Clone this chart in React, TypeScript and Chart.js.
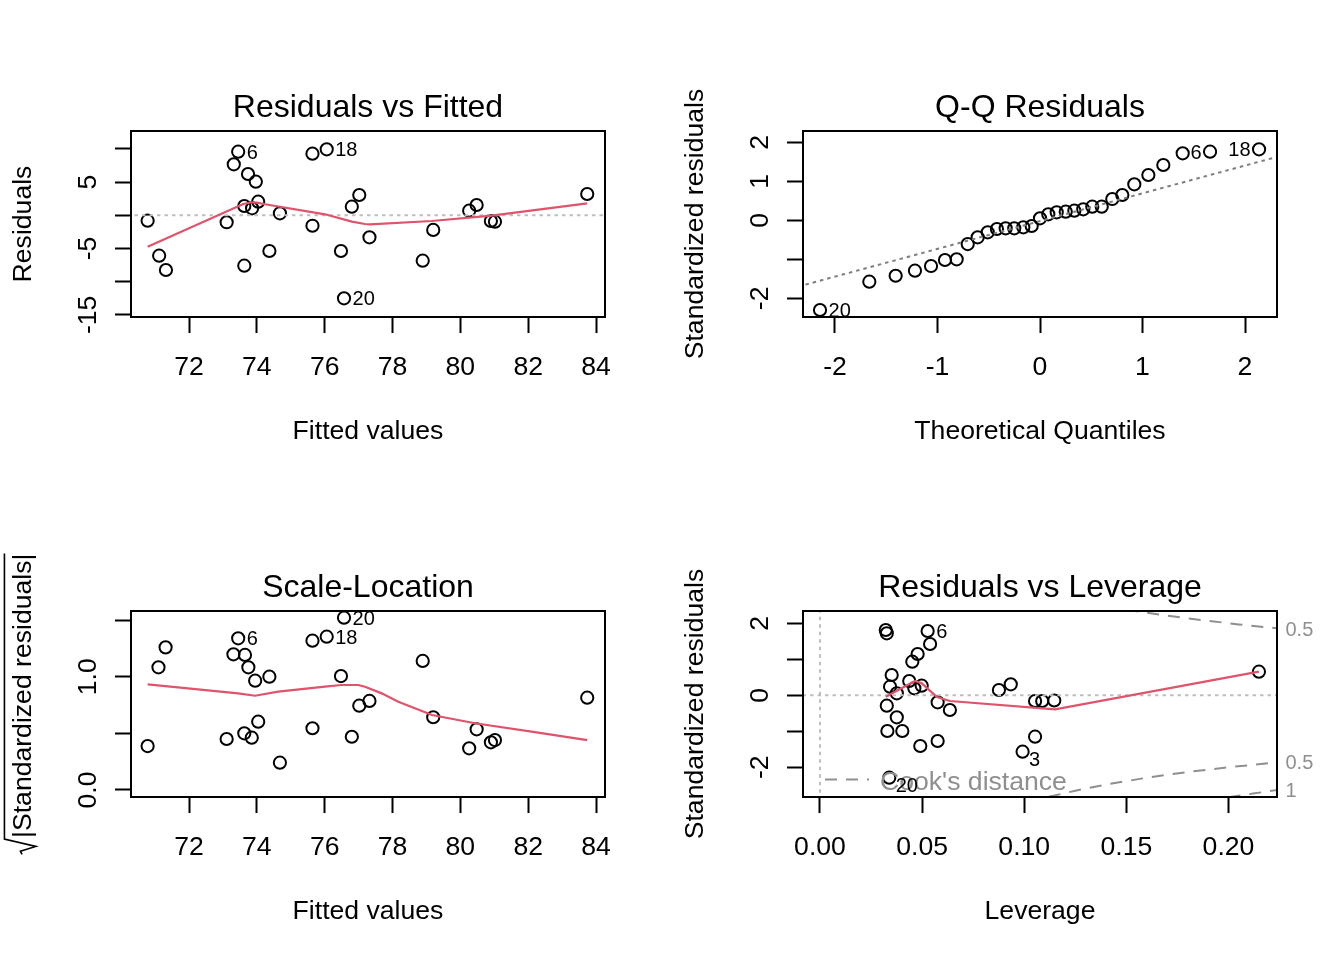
import React, { useEffect, useRef } from "react";
import { Chart, registerables } from "chart.js";

Chart.register(...registerables);

const FONT = '"Liberation Sans", Arial, Helvetica, sans-serif';
const AXIS_PX = 26.6;
const TITLE_PX = 32;
const ID_PX = 20;
const RED = "#DF536B";
const LIGHT_GRAY = "#BEBEBE";
const MID_GRAY = "#7F7F7F";
const COOK_GRAY = "#8F8F8F";
const DOTTED = [3.5, 4];
const DASHED = [12, 9];

// ---------- Residuals vs Fitted ----------
const fittedValues = [70.78, 71.12, 71.32, 73.11, 73.32, 73.45, 73.63, 73.63, 73.74, 73.86, 73.97, 74.04, 74.37, 74.68, 75.64, 75.64, 76.06, 76.48, 76.57, 76.8, 77.02, 77.32, 78.89, 79.2, 80.26, 80.48, 80.9, 81.02, 83.74];
const residuals = [-0.81, -6.08, -8.24, -1.05, 7.68, 9.58, 1.4, -7.59, 6.22, 1.05, 5.06, 2.05, -5.38, 0.3, 9.28, -1.57, 9.94, -5.38, -12.5, 1.3, 3.06, -3.31, -6.84, -2.21, 0.69, 1.55, -0.86, -0.96, 3.21];
const residualIds = ["", "", "", "", "", "6", "", "", "", "", "", "", "", "", "", "", "18", "", "20", "", "", "", "", "", "", "", "", "", ""];
const residSmoothX = [70.78, 73.6, 73.85, 74.0, 74.24, 76.01, 76.8, 77.19, 77.34, 79.16, 80.92, 83.74];
const residSmoothY = [-4.73, 1.7, 1.96, 1.9, 1.66, 0.15, -0.96, -1.31, -1.36, -0.86, -0.06, 1.81];
const fittedTicks = [72, 74, 76, 78, 80, 82, 84];
const fittedTickLabels = ["72", "74", "76", "78", "80", "82", "84"];
const residTicks = [-15, -10, -5, 0, 5, 10];
const residTickLabels = ["-15", "", "-5", "", "5", ""];

// ---------- Q-Q Residuals ----------
const theoreticalQuantiles = [-2.146, -1.665, -1.408, -1.22, -1.063, -0.927, -0.813, -0.705, -0.608, -0.51, -0.42, -0.335, -0.251, -0.163, -0.081, 0.0, 0.081, 0.163, 0.251, 0.335, 0.422, 0.51, 0.602, 0.705, 0.803, 0.92, 1.057, 1.203, 1.392, 1.659, 2.137];
const sortedStdResiduals = [-2.3, -1.574, -1.421, -1.292, -1.172, -1.018, -1.0, -0.608, -0.436, -0.308, -0.223, -0.205, -0.205, -0.179, -0.146, 0.051, 0.154, 0.205, 0.221, 0.246, 0.282, 0.349, 0.349, 0.546, 0.649, 0.923, 1.162, 1.418, 1.718, 1.759, 1.821];
const qqIds = ["20", "", "", "", "", "", "", "", "", "", "", "", "", "", "", "", "", "", "", "", "", "", "", "", "", "", "", "", "", "6", "18"];
const qqLineX = [-2.5, 2.5];
const qqLineY = [-1.8, 1.76];
const qqXTicks = [-2, -1, 0, 1, 2];
const qqXTickLabels = ["-2", "-1", "0", "1", "2"];
const stdTicks = [-2, -1, 0, 1, 2];
const qqYTickLabels = ["-2", "", "0", "1", "2"];

// ---------- Scale-Location ----------
const slFitted = [70.78, 71.1, 71.31, 73.11, 73.31, 73.45, 73.63, 73.65, 73.75, 73.85, 73.95, 74.04, 74.37, 74.68, 75.64, 75.64, 76.06, 76.48, 76.57, 76.8, 77.02, 77.32, 78.89, 79.2, 80.26, 80.48, 80.9, 81.02, 83.74];
const slSqrtStd = [0.388, 1.083, 1.259, 0.45, 1.198, 1.339, 0.5, 1.192, 1.083, 0.462, 0.965, 0.603, 1.0, 0.241, 1.318, 0.545, 1.353, 1.006, 1.521, 0.47, 0.744, 0.786, 1.139, 0.642, 0.368, 0.536, 0.421, 0.441, 0.815];
const slIds = ["", "", "", "", "", "6", "", "", "", "", "", "", "", "", "", "", "18", "", "20", "", "", "", "", "", "", "", "", "", ""];
const slSmoothX = [70.78, 73.45, 73.95, 74.63, 76.01, 76.5, 76.99, 77.19, 77.68, 78.17, 78.96, 79.16, 80.43, 82.1, 83.74];
const slSmoothY = [0.933, 0.853, 0.832, 0.868, 0.912, 0.927, 0.927, 0.912, 0.853, 0.779, 0.686, 0.662, 0.589, 0.515, 0.441];
const slYTicks = [0, 0.5, 1.0, 1.5];
const slYTickLabels = ["0.0", "", "1.0", ""];

// ---------- Residuals vs Leverage ----------
const leverage = [0.0322, 0.0327, 0.0527, 0.0539, 0.0478, 0.0452, 0.0351, 0.0437, 0.0343, 0.0462, 0.0498, 0.0376, 0.0327, 0.0576, 0.0636, 0.0376, 0.033, 0.0403, 0.0491, 0.0576, 0.0339, 0.0876, 0.0934, 0.1053, 0.1088, 0.1147, 0.1053, 0.0992, 0.2149];
const levStdResiduals = [1.814, 1.722, 1.786, 1.425, 1.147, 0.933, 0.564, 0.397, 0.239, 0.194, 0.267, 0.056, -0.289, -0.194, -0.408, -0.611, -0.992, -0.992, -1.408, -1.269, -2.289, 0.147, 0.306, -0.158, -0.158, -0.144, -1.15, -1.567, 0.656];
const levIds = ["", "", "6", "", "", "", "", "", "", "", "", "", "", "", "", "", "", "", "", "", "20", "", "", "", "", "", "", "3", ""];
const levSmoothX = [0.0322, 0.0465, 0.0498, 0.0573, 0.0636, 0.1151, 0.2149];
const levSmoothY = [-0.039, 0.397, 0.333, -0.047, -0.158, -0.389, 0.656];
const cookUpperHalfX = [0.15, 0.17, 0.187, 0.205, 0.224];
const cookUpperHalfY = [2.38, 2.21, 2.09, 1.97, 1.86];
const cookLowerHalfX = [0.112, 0.125, 0.14, 0.16, 0.18, 0.2, 0.224];
const cookLowerHalfY = [-2.82, -2.65, -2.48, -2.29, -2.13, -2.0, -1.86];
const cookLowerOneX = [0.2, 0.212, 0.224];
const cookLowerOneY = [-2.83, -2.73, -2.63];
const cookLevels = ["0.5", "0.5", "1"];
const levTicks = [0, 0.05, 0.1, 0.15, 0.2];
const levTickLabels = ["0.00", "0.05", "0.10", "0.15", "0.20"];
const levYTickLabels = ["-2", "", "0", "", "2"];

// ---------- helpers ----------
type XY = { x: number; y: number };
const pairs = (xs: number[], ys: number[]): XY[] => xs.map((x, i) => ({ x, y: ys[i] }));

function pointSet(xs: number[], ys: number[]) {
  return {
    data: pairs(xs, ys),
    showLine: false,
    pointStyle: "circle",
    pointRadius: 6.1,
    pointBorderWidth: 2,
    pointBorderColor: "#000",
    pointBackgroundColor: "rgba(0,0,0,0)",
    order: 3,
    clip: false,
  };
}

function lineSet(xs: number[], ys: number[], color: string, dash: number[], width: number, order: number) {
  return {
    data: pairs(xs, ys),
    showLine: true,
    pointRadius: 0,
    borderColor: color,
    borderWidth: width,
    borderDash: dash,
    borderCapStyle: "butt",
    fill: false,
    tension: 0,
    order,
    clip: 0,
  };
}

type IdPlacement = (px: number, py: number, i: number) => { x: number; y: number; align: CanvasTextAlign };

interface PanelSpec {
  title: string;
  xTitle: string;
  yTitle: string;
  sqrtYTitle?: boolean;
  xMin: number;
  xMax: number;
  yMin: number;
  yMax: number;
  xTicks: number[];
  xTickLabels: string[];
  yTicks: number[];
  yTickLabels: string[];
  datasets: any[];
  idX: number[];
  idY: number[];
  ids: string[];
  place: IdPlacement;
  extra?: (ctx: CanvasRenderingContext2D, chart: Chart) => void;
}

const capMid = (px: number) => px * 0.358;

const rightOf: IdPlacement = (px, py) => ({ x: px + 8.5, y: py + capMid(ID_PX), align: "left" });
const leftOf: IdPlacement = (px, py) => ({ x: px - 8.5, y: py + capMid(ID_PX), align: "right" });

function drawSqrtTitle(ctx: CanvasRenderingContext2D, cx: number, cy: number, text: string) {
  const fs = AXIS_PX;
  ctx.save();
  ctx.translate(cx, cy);
  ctx.rotate(-Math.PI / 2);
  ctx.font = `${fs}px ${FONT}`;
  const body = `|${text}|`;
  const w = ctx.measureText(body).width;
  const r = 0.62 * fs;
  const x0 = -(w + r) / 2;
  ctx.textAlign = "left";
  ctx.textBaseline = "alphabetic";
  ctx.fillText(body, x0 + r, 0);
  const top = -0.98 * fs;
  ctx.beginPath();
  ctx.moveTo(x0, -0.32 * fs);
  ctx.lineTo(x0 + 0.12 * fs, -0.38 * fs);
  ctx.lineTo(x0 + 0.3 * fs, 0.2 * fs);
  ctx.lineTo(x0 + r - 0.04 * fs, top);
  ctx.lineTo(x0 + r + w, top);
  ctx.lineWidth = 1.6;
  ctx.strokeStyle = "#000";
  ctx.stroke();
  ctx.restore();
}

function decorPlugin(spec: PanelSpec) {
  return {
    id: "decor",
    afterDraw(chart: Chart) {
      const { ctx, chartArea: a } = chart;
      const xs = chart.scales.x;
      const ys = chart.scales.y;
      ctx.save();
      ctx.strokeStyle = "#000";
      ctx.lineWidth = 2;
      ctx.strokeRect(a.left, a.top, a.right - a.left, a.bottom - a.top);

      ctx.fillStyle = "#000";
      ctx.textBaseline = "alphabetic";
      ctx.textAlign = "center";
      ctx.font = `${TITLE_PX}px ${FONT}`;
      ctx.fillText(spec.title, (a.left + a.right) / 2, a.top - 14);

      ctx.font = `${AXIS_PX}px ${FONT}`;
      spec.xTicks.forEach((v, i) => {
        ctx.fillText(spec.xTickLabels[i], xs.getPixelForValue(v), a.bottom + 58);
      });
      ctx.fillText(spec.xTitle, (a.left + a.right) / 2, a.bottom + 122);

      spec.yTicks.forEach((v, i) => {
        const t = spec.yTickLabels[i];
        if (!t) return;
        ctx.save();
        ctx.translate(a.left - 35.5, ys.getPixelForValue(v));
        ctx.rotate(-Math.PI / 2);
        ctx.fillText(t, 0, 0);
        ctx.restore();
      });

      const midY = (a.top + a.bottom) / 2;
      if (spec.sqrtYTitle) {
        drawSqrtTitle(ctx, a.left - 100.5, midY, spec.yTitle);
      } else {
        ctx.save();
        ctx.translate(a.left - 100.5, midY);
        ctx.rotate(-Math.PI / 2);
        ctx.fillText(spec.yTitle, 0, 0);
        ctx.restore();
      }

      if (spec.extra) spec.extra(ctx, chart);

      ctx.fillStyle = "#000";
      ctx.font = `${ID_PX}px ${FONT}`;
      spec.ids.forEach((t, i) => {
        if (!t) return;
        const px = xs.getPixelForValue(spec.idX[i]);
        const py = ys.getPixelForValue(spec.idY[i]);
        const p = spec.place(px, py, i);
        ctx.textAlign = p.align;
        ctx.fillText(t, p.x, p.y);
      });
      ctx.restore();
    },
  };
}

function buildConfig(spec: PanelSpec): any {
  const axisCommon = {
    type: "linear",
    ticks: { display: false },
    border: { display: false },
    grid: {
      display: true,
      drawOnChartArea: false,
      drawTicks: true,
      tickLength: 16,
      tickWidth: 2,
      tickColor: "#000",
    },
  };
  return {
    type: "scatter",
    data: { datasets: spec.datasets },
    options: {
      responsive: false,
      maintainAspectRatio: false,
      animation: false,
      devicePixelRatio: 1,
      events: [],
      layout: { padding: { left: 0, top: 131, right: 67, bottom: 0 } },
      plugins: { legend: { display: false }, tooltip: { enabled: false }, title: { display: false } },
      scales: {
        x: {
          ...axisCommon,
          position: "bottom",
          min: spec.xMin,
          max: spec.xMax,
          afterBuildTicks: (s: any) => {
            s.ticks = spec.xTicks.map((v) => ({ value: v }));
          },
          afterFit: (s: any) => {
            s.height = 163;
          },
        },
        y: {
          ...axisCommon,
          position: "left",
          min: spec.yMin,
          max: spec.yMax,
          afterBuildTicks: (s: any) => {
            s.ticks = spec.yTicks.map((v) => ({ value: v }));
          },
          afterFit: (s: any) => {
            s.width = 131;
          },
        },
      },
    },
    plugins: [decorPlugin(spec)],
  };
}

// ---------- panel specs ----------
const residualsVsFitted: PanelSpec = {
  title: "Residuals vs Fitted",
  xTitle: "Fitted values",
  yTitle: "Residuals",
  xMin: 70.29,
  xMax: 84.264,
  yMin: -15.32,
  yMax: 12.7,
  xTicks: fittedTicks,
  xTickLabels: fittedTickLabels,
  yTicks: residTicks,
  yTickLabels: residTickLabels,
  datasets: [
    lineSet(residSmoothX, residSmoothY, RED, [], 2.2, 0),
    lineSet([60, 90], [0, 0], LIGHT_GRAY, DOTTED, 2, 1),
    pointSet(fittedValues, residuals),
  ],
  idX: fittedValues,
  idY: residuals,
  ids: residualIds,
  place: rightOf,
};

const qqResiduals: PanelSpec = {
  title: "Q-Q Residuals",
  xTitle: "Theoretical Quantiles",
  yTitle: "Standardized residuals",
  xMin: -2.312,
  xMax: 2.312,
  yMin: -2.479,
  yMax: 2.29,
  xTicks: qqXTicks,
  xTickLabels: qqXTickLabels,
  yTicks: stdTicks,
  yTickLabels: qqYTickLabels,
  datasets: [
    lineSet(qqLineX, qqLineY, MID_GRAY, DOTTED, 2, 1),
    pointSet(theoreticalQuantiles, sortedStdResiduals),
  ],
  idX: theoreticalQuantiles,
  idY: sortedStdResiduals,
  ids: qqIds,
  place: (px, py, i) => (theoreticalQuantiles[i] < 0 ? rightOf(px, py, i) : leftOf(px, py, i)),
};

const scaleLocation: PanelSpec = {
  title: "Scale-Location",
  xTitle: "Fitted values",
  yTitle: "Standardized residuals",
  sqrtYTitle: true,
  xMin: 70.29,
  xMax: 84.264,
  yMin: -0.0618,
  yMax: 1.58,
  xTicks: fittedTicks,
  xTickLabels: fittedTickLabels,
  yTicks: slYTicks,
  yTickLabels: slYTickLabels,
  datasets: [
    lineSet(slSmoothX, slSmoothY, RED, [], 2.2, 0),
    pointSet(slFitted, slSqrtStd),
  ],
  idX: slFitted,
  idY: slSqrtStd,
  ids: slIds,
  place: rightOf,
};

const residualsVsLeverage: PanelSpec = {
  title: "Residuals vs Leverage",
  xTitle: "Leverage",
  yTitle: "Standardized residuals",
  xMin: -0.00832,
  xMax: 0.22375,
  yMin: -2.825,
  yMax: 2.342,
  xTicks: levTicks,
  xTickLabels: levTickLabels,
  yTicks: stdTicks,
  yTickLabels: levYTickLabels,
  datasets: [
    lineSet(levSmoothX, levSmoothY, RED, [], 2.2, 0),
    lineSet(cookUpperHalfX, cookUpperHalfY, COOK_GRAY, DASHED, 2, 1),
    lineSet(cookLowerHalfX, cookLowerHalfY, COOK_GRAY, DASHED, 2, 1),
    lineSet(cookLowerOneX, cookLowerOneY, COOK_GRAY, DASHED, 2, 1),
    lineSet([-1, 1], [0, 0], LIGHT_GRAY, DOTTED, 2, 2),
    lineSet([0, 0], [-10, 10], LIGHT_GRAY, DOTTED, 2, 2),
    pointSet(leverage, levStdResiduals),
  ],
  idX: leverage,
  idY: levStdResiduals,
  ids: levIds,
  place: (px, py, i) => (i === 2 ? rightOf(px, py, i) : { x: px + 6.5, y: py + 6.8 + capMid(ID_PX), align: "left" }),
  extra: (ctx, chart) => {
    const a = chart.chartArea;
    const ys = chart.scales.y;
    // Cook's distance legend
    ctx.save();
    ctx.strokeStyle = COOK_GRAY;
    ctx.lineWidth = 2;
    ctx.setLineDash(DASHED);
    ctx.beginPath();
    ctx.moveTo(a.left + 22, a.bottom - 17.5);
    ctx.lineTo(a.left + 66, a.bottom - 17.5);
    ctx.stroke();
    ctx.setLineDash([]);
    ctx.fillStyle = COOK_GRAY;
    ctx.font = `${AXIS_PX}px ${FONT}`;
    ctx.textAlign = "left";
    ctx.fillText("Cook's distance", a.left + 77, a.bottom - 7);
    // contour levels in the right margin
    ctx.font = `${ID_PX}px ${FONT}`;
    const ends = [
      cookUpperHalfY[cookUpperHalfY.length - 1],
      cookLowerHalfY[cookLowerHalfY.length - 1],
      cookLowerOneY[cookLowerOneY.length - 1],
    ];
    ends.forEach((v, i) => {
      ctx.fillText(cookLevels[i], a.right + 8.5, ys.getPixelForValue(v) + capMid(ID_PX));
    });
    ctx.restore();
  },
};

function Panel({ spec, left, top }: { spec: PanelSpec; left: number; top: number }) {
  const ref = useRef<HTMLCanvasElement>(null);
  useEffect(() => {
    const chart = new Chart(ref.current as HTMLCanvasElement, buildConfig(spec));
    return () => chart.destroy();
  }, [spec]);
  return (
    <div style={{ position: "absolute", left, top, width: 672, height: 480 }}>
      <canvas ref={ref} width={672} height={480} style={{ display: "block", width: 672, height: 480 }} />
    </div>
  );
}

export default function App() {
  return (
    <div style={{ position: "absolute", left: 0, top: 0, width: 1344, height: 960, background: "#fff" }}>
      <Panel spec={residualsVsFitted} left={0} top={0} />
      <Panel spec={qqResiduals} left={672} top={0} />
      <Panel spec={scaleLocation} left={0} top={480} />
      <Panel spec={residualsVsLeverage} left={672} top={480} />
    </div>
  );
}
